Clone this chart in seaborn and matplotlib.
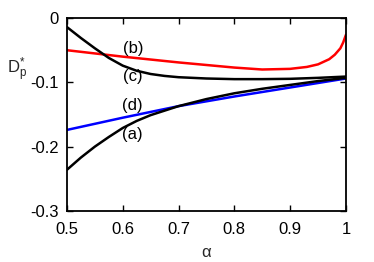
import numpy as np
import pandas as pd
import seaborn as sns
import matplotlib
matplotlib.use("Agg")
import matplotlib.pyplot as plt

# curve (a) - black, rising
alpha_a = [0.5, 0.525, 0.55, 0.575, 0.6, 0.625, 0.65, 0.7, 0.75, 0.8, 0.85, 0.9, 0.95, 1.0]
dp_a = [-0.236, -0.217, -0.200, -0.185, -0.171, -0.160, -0.151, -0.137, -0.126, -0.117, -0.110, -0.104, -0.098, -0.093]

# curve (b) - red
alpha_b = [0.5, 0.6, 0.7, 0.8, 0.85, 0.9, 0.93, 0.95, 0.97, 0.98, 0.99, 0.995, 1.0]
dp_b = [-0.050, -0.060, -0.069, -0.077, -0.080, -0.079, -0.076, -0.072, -0.064, -0.057, -0.047, -0.038, -0.026]

# curve (c) - black, falling
alpha_c = [0.5, 0.525, 0.55, 0.575, 0.6, 0.625, 0.65, 0.675, 0.7, 0.75, 0.8, 0.85, 0.9, 0.95, 1.0]
dp_c = [-0.014, -0.031, -0.047, -0.062, -0.074, -0.082, -0.087, -0.090, -0.092, -0.094, -0.095, -0.095, -0.0945, -0.093, -0.091]

# curve (d) - blue
alpha_d = [0.5, 0.6, 0.7, 0.8, 0.9, 1.0]
dp_d = [-0.174, -0.155, -0.137, -0.122, -0.108, -0.094]

labels = ["(b)", "(c)", "(d)", "(a)"]
label_x = [0.618, 0.618, 0.618, 0.618]
label_y = [-0.047, -0.091, -0.136, -0.181]

sns.set_theme(style="ticks")
plt.rcParams["font.family"] = ["Liberation Sans", "DejaVu Sans"]
plt.rcParams["mathtext.fontset"] = "custom"
plt.rcParams["mathtext.rm"] = "Liberation Sans"
plt.rcParams["mathtext.it"] = "Liberation Sans"
plt.rcParams["xtick.direction"] = "in"
plt.rcParams["ytick.direction"] = "in"

fig = plt.figure(figsize=(3.74, 2.62), dpi=100)
ax = fig.add_axes([0.179, 0.195, 0.746, 0.736])

sns.lineplot(x=alpha_b, y=dp_b, color="#ff0000", lw=1.8, ax=ax)
sns.lineplot(x=alpha_d, y=dp_d, color="#0000ff", lw=1.8, ax=ax)
sns.lineplot(x=alpha_c, y=dp_c, color="black", lw=1.8, ax=ax)
sns.lineplot(x=alpha_a, y=dp_a, color="black", lw=1.8, ax=ax)

for t, x, y in zip(labels, label_x, label_y):
    ax.text(x, y, t, fontsize=12, ha="center", va="center", color="black")

ax.set_xlim(0.5, 1.0)
ax.set_ylim(-0.3, 0.0)
ax.set_xticks([0.5, 0.6, 0.7, 0.8, 0.9, 1.0])
ax.set_xticklabels(["0.5", "0.6", "0.7", "0.8", "0.9", "1"])
ax.set_yticks([-0.3, -0.2, -0.1, 0.0])
ax.set_yticklabels(["-0.3", "-0.2", "-0.1", "0"])
ax.tick_params(axis="both", which="both", top=True, right=True, length=4,
               width=1, labelsize=12, colors="black")
ax.tick_params(axis="x", pad=8)
ax.tick_params(axis="y", pad=6)
for s in ax.spines.values():
    s.set_linewidth(1.3)
    s.set_color("black")

ax.set_xlabel("α", fontsize=12, labelpad=6)
ax.set_ylabel(r"D$^{*}_{\mathrm{p}}$", fontsize=12, rotation=0)
ax.yaxis.set_label_coords(-0.18, 0.73)
ax.yaxis.label.set_verticalalignment("center")
ax.yaxis.label.set_horizontalalignment("center")

fig.savefig("out.png", dpi=100)
